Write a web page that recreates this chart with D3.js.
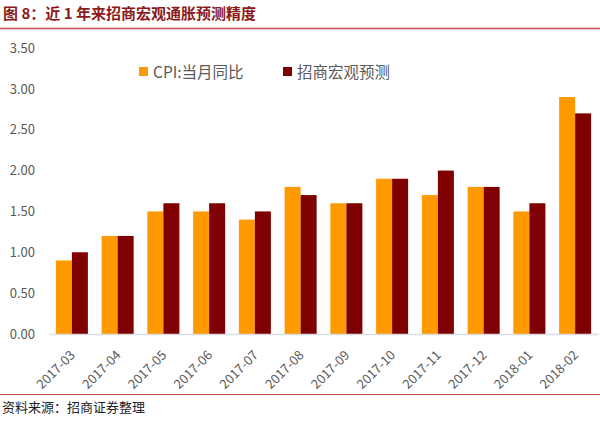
<!DOCTYPE html>
<html><head><meta charset="utf-8">
<script src="https://cdn.jsdelivr.net/npm/d3@7"></script>
<style>body{margin:0;background:#fff;}svg{display:block;}</style>
</head><body>
<svg id="c" width="600" height="423"></svg>
<script>
const categories = ["2017-03","2017-04","2017-05","2017-06","2017-07","2017-08","2017-09","2017-10","2017-11","2017-12","2018-01","2018-02"];
const cpiValues = [0.9,1.2,1.5,1.5,1.4,1.8,1.6,1.9,1.7,1.8,1.5,2.9];
const forecastValues = [1.0,1.2,1.6,1.6,1.5,1.7,1.6,1.9,2.0,1.8,1.6,2.7];
const seriesNames = ["CPI:当月同比","招商宏观预测"];
const yTicks = [0,0.5,1,1.5,2,2.5,3,3.5];
const colors = ["#FF9900","#7F0000"];

const svg = d3.select("#c");
const font = "'Noto Sans CJK SC', 'Noto Sans', sans-serif";

// title
svg.append("text").attr("x",3).attr("y",19).attr("font-family",font).attr("font-weight","bold")
  .attr("font-size",15).attr("fill","#8B1A1A").text("图 8：近 1 年来招商宏观通胀预测精度");
svg.append("line").attr("x1",0).attr("x2",600).attr("y1",28.5).attr("y2",28.5).attr("stroke","#C0504D").attr("stroke-width",1.5);

const x0 = d3.scaleBand().domain(categories).range([49,598]).paddingInner(0.3).paddingOuter(0.15);
const x1 = d3.scaleBand().domain([0,1]).range([0,x0.bandwidth()]);
const y = d3.scaleLinear().domain([0,3.5]).range([334,48]);

// y axis labels
const yAxis = d3.axisLeft(y).tickValues(yTicks).tickFormat(d3.format(".2f")).tickSize(0).tickPadding(0);
const ya = svg.append("g").attr("transform","translate(35,0)").call(yAxis);
ya.select(".domain").remove();
ya.selectAll("text").attr("font-family",font).attr("font-size",13).attr("fill","#595959");

// bars
const data = categories.map((c,i)=>({c, v:[cpiValues[i],forecastValues[i]]}));
const g = svg.append("g");
g.selectAll("g").data(data).join("g").attr("transform",d=>`translate(${x0(d.c)},0)`)
  .selectAll("rect").data(d=>d.v.map((v,k)=>({v,k}))).join("rect")
  .attr("x",d=>x1(d.k)).attr("width",x1.bandwidth())
  .attr("y",d=>y(d.v)).attr("height",d=>y(0)-y(d.v)).attr("fill",d=>colors[d.k]);

// x axis
const xAxis = d3.axisBottom(x0).tickSize(0).tickPadding(0);
const xa = svg.append("g").attr("transform",`translate(0,${y(0)})`).call(xAxis);
xa.select(".domain").attr("stroke","#D9DEE6").attr("stroke-width",1.5);
xa.selectAll("text").attr("font-family",font).attr("font-size",13).attr("fill","#595959")
  .attr("text-anchor","end").attr("dy","0")
  .attr("transform","translate(4,22) rotate(-45)");

// legend
const legend = svg.append("g");
const lx = [139, 283];
seriesNames.forEach((n,i)=>{
  legend.append("rect").attr("x",lx[i]).attr("y",67).attr("width",9).attr("height",9).attr("fill",colors[i]);
  legend.append("text").attr("x",lx[i]+14).attr("y",78).attr("font-family",font).attr("font-size",15.5)
    .attr("fill","#595959").text(n);
});

// bottom
svg.append("line").attr("x1",0).attr("x2",600).attr("y1",394.5).attr("y2",394.5).attr("stroke","#C0504D").attr("stroke-width",1.2);
svg.append("text").attr("x",2).attr("y",412).attr("font-family",font).attr("font-size",13)
  .attr("fill","#222").text("资料来源：招商证券整理");
</script>
</body></html>
